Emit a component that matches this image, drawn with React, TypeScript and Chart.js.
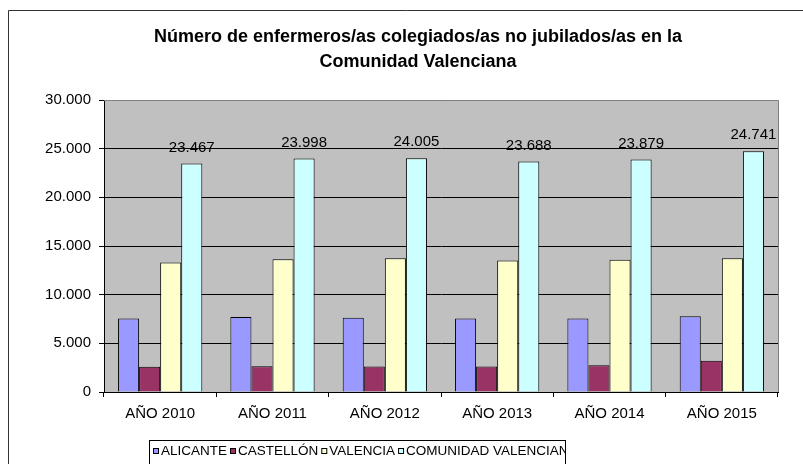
import React, { useEffect, useRef } from "react";
import { Chart, registerables } from "chart.js";

Chart.register(...registerables);

const categories = ["AÑO 2010", "AÑO 2011", "AÑO 2012", "AÑO 2013", "AÑO 2014", "AÑO 2015"];
const alicante = [7550, 7700, 7640, 7540, 7540, 7780];
const castellon = [2600, 2650, 2630, 2630, 2740, 3220];
const valencia = [13317, 13648, 13735, 13518, 13599, 13741];
const comunidad = [23467, 23998, 24005, 23688, 23879, 24741];
const seriesNames = ["ALICANTE", "CASTELLÓN", "VALENCIA", "COMUNIDAD VALENCIANA"];
const seriesColors = ["#9999FF", "#993366", "#FFFFCC", "#CCFFFF"];
const titleLines = ["Número de enfermeros/as colegiados/as no jubilados/as en la", "Comunidad Valenciana"];
const yTicks = [0, 5000, 10000, 15000, 20000, 25000, 30000];

const FONT = "'Liberation Sans', Arial, sans-serif";

function fmt(v: number): string {
  return Math.round(v).toString().replace(/\B(?=(\d{3})+(?!\d))/g, ".");
}

const decorPlugin = {
  id: "decor",
  beforeDraw(chart: any) {
    const { ctx, chartArea } = chart;
    ctx.save();
    ctx.fillStyle = "#FFFFFF";
    ctx.fillRect(0, 0, chart.width, chart.height);
    // outer border
    ctx.strokeStyle = "#333333";
    ctx.lineWidth = 1;
    ctx.beginPath();
    ctx.moveTo(8.5, chart.height + 5);
    ctx.lineTo(8.5, 10.5);
    ctx.lineTo(chart.width + 5, 10.5);
    ctx.stroke();
    // plot bg
    ctx.fillStyle = "#C0C0C0";
    ctx.fillRect(chartArea.left, chartArea.top, chartArea.right - chartArea.left, chartArea.bottom - chartArea.top);
    // title
    ctx.fillStyle = "#000";
    ctx.font = `bold 18px ${FONT}`;
    ctx.textAlign = "center";
    ctx.textBaseline = "middle";
    ctx.fillText(titleLines[0], 418, 37);
    ctx.fillText(titleLines[1], 418, 62);
    ctx.restore();
  },
  beforeDatasetsDraw(chart: any) {
    const { ctx, chartArea } = chart;
    ctx.save();
    ctx.strokeStyle = "#808080";
    ctx.lineWidth = 1;
    ctx.beginPath();
    ctx.moveTo(chartArea.left, Math.round(chartArea.top) + 0.5);
    ctx.lineTo(Math.round(chartArea.right) + 0.5, Math.round(chartArea.top) + 0.5);
    ctx.lineTo(Math.round(chartArea.right) + 0.5, chartArea.bottom);
    ctx.stroke();
    ctx.restore();
  },
  afterDatasetsDraw(chart: any) {
    const { ctx } = chart;
    const meta = chart.getDatasetMeta(3);
    ctx.save();
    ctx.fillStyle = "#000";
    ctx.font = `15px ${FONT}`;
    ctx.textAlign = "center";
    ctx.textBaseline = "middle";
    meta.data.forEach((el: any, i: number) => {
      const v = chart.data.datasets[3].data[i] as number;
      ctx.fillText(fmt(v), el.x, el.y - 16);
    });
    ctx.restore();
  },
  afterDraw(chart: any) {
    const { ctx } = chart;
    const left = 149;
    const top = 440;
    const right = 565;
    ctx.save();
    ctx.strokeStyle = "#000";
    ctx.lineWidth = 1;
    ctx.strokeRect(left + 0.5, top + 0.5, right - left, chart.height - top + 10);
    ctx.beginPath();
    ctx.rect(left + 1, top + 1, right - left - 1, chart.height - top);
    ctx.clip();
    ctx.font = `13.5px ${FONT}`;
    ctx.textBaseline = "middle";
    ctx.textAlign = "left";
    let x = 153;
    const cy = 451;
    chart.data.datasets.forEach((ds: any) => {
      ctx.fillStyle = ds.backgroundColor;
      ctx.fillRect(x, cy - 3, 6, 6);
      ctx.strokeStyle = "#000";
      ctx.strokeRect(x + 0.5, cy - 3 + 0.5, 5, 5);
      ctx.fillStyle = "#000";
      const tx = x + 8;
      ctx.fillText(ds.label, tx, cy);
      x = tx + ctx.measureText(ds.label).width + 3;
    });
    ctx.restore();
  },
};

export default function App() {
  const ref = useRef<HTMLCanvasElement | null>(null);
  useEffect(() => {
    if (!ref.current) return;
    const data = [alicante, castellon, valencia, comunidad];
    const chart = new Chart(ref.current, {
      type: "bar",
      data: {
        labels: categories,
        datasets: seriesNames.map((name, i) => ({
          label: name,
          data: data[i],
          backgroundColor: seriesColors[i],
          borderColor: "#000000",
          borderWidth: 1,
          categoryPercentage: 0.75,
          barPercentage: 1,
        })),
      },
      options: {
        responsive: false,
        animation: false,
        devicePixelRatio: 1,
        layout: { padding: { top: 100, right: 25, left: 0, bottom: 0 } },
        plugins: {
          legend: { display: false },
          title: { display: false },
          tooltip: { enabled: false },
        },
        scales: {
          x: {
            grid: { display: true, drawOnChartArea: false, offset: true, tickLength: 5, color: "#000" },
            border: { display: true, color: "#000" },
            ticks: { font: { family: FONT, size: 15 }, color: "#000", padding: 8, maxRotation: 0 },
            afterFit: (s: any) => { s.height = 72; },
          },
          y: {
            min: 0,
            max: 30000,
            afterBuildTicks: (s: any) => { s.ticks = yTicks.map((v) => ({ value: v })); },
            grid: { color: "#000", tickLength: 5, lineWidth: 1 },
            border: { display: true, color: "#000" },
            ticks: {
              font: { family: FONT, size: 15 },
              color: "#000",
              padding: 8,
              callback: (v: any) => fmt(Number(v)),
            },
            afterFit: (s: any) => { s.width = 104; },
          },
        },
      },
      plugins: [decorPlugin],
    });
    return () => chart.destroy();
  }, []);
  return (
    <div style={{ position: "fixed", left: 0, top: 0, width: 803, height: 464 }}>
      <canvas ref={ref} width={803} height={464} style={{ display: "block" }} />
    </div>
  );
}
